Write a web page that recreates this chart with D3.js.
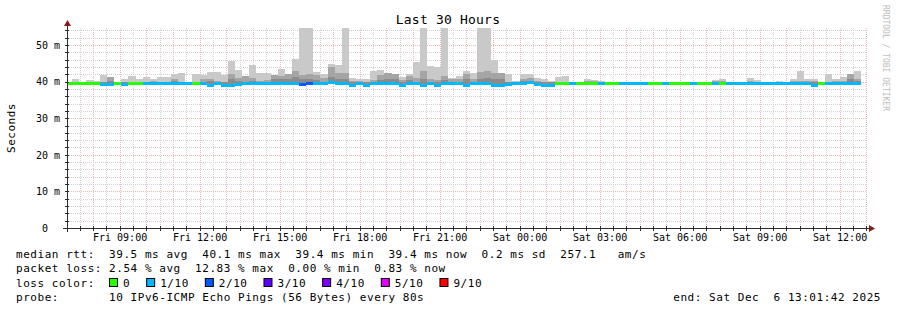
<!DOCTYPE html>
<html>
<head>
<meta charset="utf-8">
<script src="https://cdn.jsdelivr.net/npm/d3@7"></script>
<style>
body { margin: 0; background: #fff; }
svg text { font-family: "DejaVu Sans Mono", monospace; white-space: pre; }
</style>
</head>
<body>
<div id="chart"></div>
<script>
// one entry per 16 minute bin (960 s), from Fri 06:56 to Sat 12:48
var medianRtt = [
    39.5,39.5,39.5,39.5,39.5,39.3,39.3,39.5,39.3,39.5,
    39.5,39.7,39.5,39.5,39.5,39.5,39.5,39.5,39.6,39.5,
    39.2,39.5,39.2,39.2,39.3,39.5,39.5,39.5,39.5,39.5,
    39.6,39.5,39.5,39.3,39.7,39.5,39.6,39.8,39.5,39.5,
    39.2,39.5,39.2,39.5,39.5,39.5,39.5,39.2,39.5,39.5,
    39.2,39.5,39.2,39.5,39.5,39.5,39.2,39.5,39.5,39.5,
    39.2,39.2,39.3,39.5,39.6,39.8,39.4,39.2,39.2,39.5,
    39.5,39.5,39.5,39.5,39.5,39.5,39.5,39.5,39.5,39.5,
    39.5,39.5,39.5,39.5,39.5,39.5,39.5,39.5,39.5,39.5,
    39.5,39.5,39.5,39.5,39.5,39.5,39.5,39.5,39.5,39.5,
    39.5,39.6,39.6,39.5,39.6,39.1,39.5,39.5,39.6,39.5,
    39.6,39.5
];
var lossTenths = [
    0,0,0,0,0,1,1,0,1,0,
    0,1,1,1,1,1,1,1,0,1,
    1,1,1,1,1,1,1,1,1,1,
    1,1,1,2,2,1,1,1,1,1,
    1,1,1,1,1,1,1,1,1,1,
    1,1,1,1,1,1,1,1,1,1,
    1,1,1,1,1,1,1,1,1,0,
    0,1,0,0,0,1,0,0,1,1,
    1,1,0,0,1,0,0,0,1,0,
    0,1,0,1,1,1,1,1,1,1,
    1,1,1,1,1,1,0,1,1,1,
    1,1
];
// smoke: highest ping, upper band, core band (ms)
var pingMax = [
    40.0,40.7,40.0,40.4,40.1,41.9,41.3,40.0,40.8,41.4,
    40.7,41.3,40.7,41.2,41.2,42.1,42.4,39.8,42.1,41.9,
    42.6,42.6,41.9,45.6,43.2,41.6,44.4,42.3,42.3,41.8,
    43.5,42.1,46.2,56.0,56.0,42.6,42.0,44.7,44.4,56.0,
    41.0,40.7,40.6,43.0,43.2,42.4,42.1,41.3,42.1,45.3,
    56.0,44.2,43.9,56.0,41.0,41.6,42.8,42.4,56.0,56.0,
    46.0,42.3,42.1,40.2,42.1,42.1,41.0,40.6,40.2,41.3,
    41.6,40.0,39.9,40.6,40.4,40.2,39.8,39.8,40.0,40.0,
    39.8,39.8,39.8,39.9,39.8,39.8,39.9,39.8,39.8,40.0,
    40.0,40.4,40.6,39.9,39.8,39.8,40.9,40.4,40.0,40.0,
    40.1,40.0,40.6,42.8,40.6,40.6,40.0,42.1,40.6,41.3,
    42.1,43.0
];
var pingHigh = [
    39.8,39.9,39.8,39.9,39.8,39.9,41.3,39.8,39.9,39.9,
    39.9,39.9,40.2,40.0,40.0,40.7,40.0,39.8,40.0,40.7,
    40.8,40.2,40.0,42.1,40.9,41.6,40.9,40.2,40.4,41.8,
    41.5,42.1,43.0,41.8,42.1,41.8,41.0,44.0,42.3,42.3,
    40.2,40.2,40.0,40.5,41.8,42.4,42.1,40.5,41.6,40.9,
    43.0,40.6,40.4,41.6,40.6,40.6,42.1,40.6,42.6,43.0,
    42.3,42.3,40.0,39.9,40.8,40.9,40.2,40.0,39.9,40.0,
    40.0,39.9,39.8,40.2,40.2,40.0,39.8,39.8,39.9,39.9,
    39.8,39.8,39.8,39.8,39.8,39.8,39.8,39.8,39.8,39.9,
    39.9,40.1,40.1,39.8,39.8,39.8,40.2,40.0,39.9,39.9,
    39.9,39.9,40.1,40.2,40.1,40.2,39.9,40.0,40.1,40.2,
    42.1,40.6
];
var pingCore = [
    39.8,39.8,39.8,39.8,39.8,39.8,40.2,39.8,39.8,39.8,
    39.8,39.8,39.8,39.8,39.8,40.2,39.8,39.8,39.8,39.8,
    40.3,39.8,39.8,40.8,40.3,39.8,40.3,39.8,39.8,40.6,
    40.6,40.6,41.2,40.8,40.6,40.5,39.8,41.2,40.8,40.6,
    39.8,39.8,39.8,39.8,40.5,40.8,40.6,39.8,40.4,39.8,
    40.6,39.8,39.8,40.4,39.8,39.8,40.6,39.8,40.8,41.0,
    40.6,40.6,39.8,39.8,40.2,40.3,39.8,39.8,39.8,39.8,
    39.8,39.8,39.8,39.8,39.8,39.8,39.8,39.8,39.8,39.8,
    39.8,39.8,39.8,39.8,39.8,39.8,39.8,39.8,39.8,39.8,
    39.8,39.8,39.8,39.8,39.8,39.8,39.8,39.8,39.8,39.8,
    39.8,39.8,39.8,39.8,39.8,39.8,39.8,39.8,39.8,39.8,
    40.8,40.2
];

var lossSteps  = [0, 1, 2, 3, 4, 5, 9];
var lossLabels = ["0", "1/10", "2/10", "3/10", "4/10", "5/10", "9/10"];
var lossColors = ["#26ff00", "#00b8ff", "#0059ff", "#5e00ff", "#7e00ff", "#dd00ff", "#ff0000"];
var yTicks = [0, 10, 20, 30, 40, 50];
var yTickLabels = ["0  ", "10 m", "20 m", "30 m", "40 m", "50 m"];

var width = 897, height = 310;
var plotLeft = 67, plotRight = 867, plotTop = 28, plotBottom = 228;

var startTime = new Date(2025, 11, 5, 7, 1, 42);
var endTime = new Date(2025, 11, 6, 13, 1, 42);
var firstBin = new Date(2025, 11, 5, 6, 56, 0);
var binSeconds = 960;

var x = d3.scaleTime().domain([startTime, endTime]).range([plotLeft, plotRight]);
var y = d3.scaleLinear().domain([0, 54.645]).range([plotBottom, plotTop]);

var lossColor = d3.scaleThreshold()
    .domain(lossSteps.slice(1))
    .range(lossColors);

var svg = d3.select("#chart").append("svg")
    .attr("width", width)
    .attr("height", height);

svg.append("rect").attr("width", width).attr("height", height).attr("fill", "#fff");

svg.append("defs").append("clipPath").attr("id", "plot")
    .append("rect")
    .attr("x", plotLeft).attr("y", plotTop)
    .attr("width", plotRight - plotLeft).attr("height", plotBottom - plotTop);

// grid
var grid = svg.append("g").attr("shape-rendering", "crispEdges");
var minorY = d3.range(0, 55, 2).filter(function(v) { return v % 10 != 0; });
var halfHours = d3.timeMinute.every(30).range(startTime, endTime).filter(function(d) { return d.getMinutes() == 30; });
var hours = d3.timeHour.every(1).range(startTime, endTime);

function hline(sel, data, color) {
    sel.selectAll(null).data(data).enter().append("line")
        .attr("x1", plotLeft).attr("x2", plotRight)
        .attr("y1", function(d) { return Math.round(y(d)) + 0.5; })
        .attr("y2", function(d) { return Math.round(y(d)) + 0.5; })
        .attr("stroke", color).attr("stroke-dasharray", "1,1");
}
function vline(sel, data, color) {
    sel.selectAll(null).data(data).enter().append("line")
        .attr("y1", plotTop).attr("y2", plotBottom)
        .attr("x1", function(d) { return Math.round(x(d)) + 0.5; })
        .attr("x2", function(d) { return Math.round(x(d)) + 0.5; })
        .attr("stroke", color).attr("stroke-dasharray", "1,1");
}
hline(grid, minorY, "#d2d2d2");
vline(grid, halfHours, "#d2d2d2");
hline(grid, yTicks.slice(1), "#f3b4b4");
vline(grid, hours, "#f3b4b4");

// smoke and median
var bins = medianRtt.map(function(m, i) {
    var t0 = d3.timeSecond.offset(firstBin, i * binSeconds);
    return {
        t0: t0,
        t1: d3.timeSecond.offset(t0, binSeconds),
        median: m,
        loss: lossTenths[i],
        max: pingMax[i],
        high: pingHigh[i],
        core: pingCore[i]
    };
});

var plot = svg.append("g").attr("clip-path", "url(#plot)").attr("shape-rendering", "crispEdges");

function smoke(key, fill) {
    plot.append("g").selectAll("rect")
        .data(bins.filter(function(d) { return d[key] > d.median; }))
        .enter().append("rect")
        .attr("x", function(d) { return Math.round(x(d.t0)); })
        .attr("width", function(d) { return Math.round(x(d.t1)) - Math.round(x(d.t0)); })
        .attr("y", function(d) { return Math.round(y(d[key])); })
        .attr("height", function(d) { return Math.round(y(d.median)) - Math.round(y(d[key])); })
        .attr("fill", fill);
}
smoke("max", "#c9c9c9");
smoke("high", "#a5a5a5");
smoke("core", "#8b8b8b");

plot.append("g").selectAll("rect")
    .data(bins).enter().append("rect")
    .attr("x", function(d) { return Math.round(x(d.t0)); })
    .attr("width", function(d) { return Math.round(x(d.t1)) - Math.round(x(d.t0)); })
    .attr("y", function(d) { return Math.round(y(d.median)) - 1; })
    .attr("height", 3)
    .attr("fill", function(d) { return lossColor(d.loss); });

// axes
var axisColor = "#2c2c2c";
var axes = svg.append("g").attr("shape-rendering", "crispEdges");
axes.append("line").attr("x1", plotLeft - 4).attr("x2", plotRight + 3)
    .attr("y1", plotBottom + 0.5).attr("y2", plotBottom + 0.5).attr("stroke", axisColor);
axes.append("line").attr("x1", plotLeft + 0.5).attr("x2", plotLeft + 0.5)
    .attr("y1", plotBottom + 4).attr("y2", plotTop - 3).attr("stroke", axisColor);

axes.selectAll(".ty").data(minorY.concat(yTicks.slice(1))).enter().append("line")
    .attr("x1", plotLeft - 2).attr("x2", plotLeft + 2)
    .attr("y1", function(d) { return Math.round(y(d)) + 0.5; })
    .attr("y2", function(d) { return Math.round(y(d)) + 0.5; })
    .attr("stroke", axisColor);
axes.selectAll(".tx").data(hours.concat(halfHours)).enter().append("line")
    .attr("y1", plotBottom - 2).attr("y2", plotBottom + 3)
    .attr("x1", function(d) { return Math.round(x(d)) + 0.5; })
    .attr("x2", function(d) { return Math.round(x(d)) + 0.5; })
    .attr("stroke", axisColor);

svg.append("path")
    .attr("d", "M" + (plotLeft - 3) + "," + (plotTop - 2) + "L" + (plotLeft + 4) + "," + (plotTop - 2) + "L" + (plotLeft + 0.5) + "," + (plotTop - 8) + "Z")
    .attr("fill", "#8b1a1a");
svg.append("path")
    .attr("d", "M" + (plotRight + 2) + "," + (plotBottom - 3) + "L" + (plotRight + 2) + "," + (plotBottom + 4) + "L" + (plotRight + 8) + "," + (plotBottom + 0.5) + "Z")
    .attr("fill", "#8b1a1a");

var xAxis = d3.axisBottom(x)
    .tickValues(d3.timeHour.every(3).range(startTime, endTime))
    .tickFormat(d3.timeFormat("%a %H:%M"))
    .tickSize(0).tickPadding(6);
var gx = svg.append("g").attr("transform", "translate(0," + plotBottom + ")").call(xAxis);
gx.select(".domain").remove();
gx.selectAll("text").attr("font-size", "10px").attr("font-family", "DejaVu Sans Mono").attr("fill", "#000");

var yAxis = d3.axisLeft(y)
    .tickValues(yTicks)
    .tickFormat(function(d, i) { return yTickLabels[i]; })
    .tickSize(0).tickPadding(7);
var gy = svg.append("g").attr("transform", "translate(" + plotLeft + ",0)").call(yAxis);
gy.select(".domain").remove();
gy.selectAll("text").attr("font-size", "10px").attr("font-family", "DejaVu Sans Mono").attr("fill", "#000");

// titles
svg.append("text")
    .attr("x", 448).attr("y", 24)
    .attr("text-anchor", "middle")
    .style("font-size", "13px").style("letter-spacing", "0.2px")
    .text("Last 30 Hours");

svg.append("text")
    .attr("transform", "translate(15,128) rotate(-90)")
    .attr("text-anchor", "middle")
    .style("font-size", "11px").style("letter-spacing", "0.5px")
    .text("Seconds");

svg.append("text")
    .attr("transform", "translate(883,5) rotate(90)")
    .style("font-size", "8px").attr("fill", "#bdbdbd")
    .text("RRDTOOL / TOBI OETIKER");

// legend
var legendLines = [
    "median rtt:  39.5 ms avg  40.1 ms max  39.4 ms min  39.4 ms now  0.2 ms sd  257.1   am/s",
    "packet loss: 2.54 % avg  12.83 % max  0.00 % min  0.83 % now",
    "loss color:",
    "probe:       10 IPv6-ICMP Echo Pings (56 Bytes) every 80s"
];
var legendY = [258, 272, 287, 301];
var legend = svg.append("g").style("font-size", "11px").style("letter-spacing", "0.54px");
legend.selectAll(".line").data(legendLines).enter().append("text")
    .attr("x", 16).attr("y", function(d, i) { return legendY[i]; })
    .text(function(d) { return d; });

legend.append("text")
    .attr("x", 881).attr("y", legendY[3])
    .attr("text-anchor", "end")
    .text("end: Sat Dec  6 13:01:42 2025");

var bx = 109;
lossLabels.forEach(function(label, i) {
    legend.append("rect")
        .attr("x", bx + 0.5).attr("y", legendY[2] - 8.5)
        .attr("width", 8).attr("height", 8)
        .attr("fill", lossColors[i]).attr("stroke", "#000");
    var t = legend.append("text")
        .attr("x", bx + 14).attr("y", legendY[2])
        .text(label);
    bx = bx + 14 + t.node().getComputedTextLength() + 16;
});
</script>
</body>
</html>
